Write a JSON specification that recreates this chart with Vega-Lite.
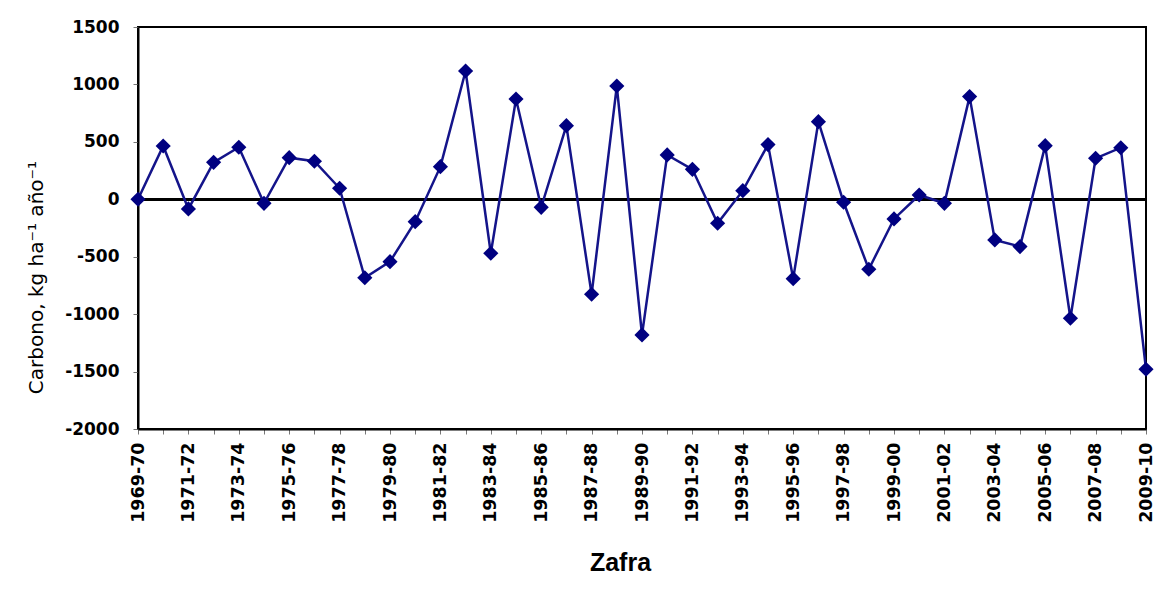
{
  "$schema": "https://vega.github.io/schema/vega-lite/v6.json",
  "width": 1008,
  "height": 402,
  "autosize": {"type": "none"},
  "padding": {"left": 138, "top": 27, "right": 20, "bottom": 162},
  "background": "white",
  "config": {
    "view": {"stroke": "black", "strokeWidth": 2},
    "axis": {"grid": false}
  },
  "data": {
    "values": [
      {"zafra": "1969-70", "carbono": 0},
      {"zafra": "1970-71", "carbono": 464},
      {"zafra": "1971-72", "carbono": -84},
      {"zafra": "1972-73", "carbono": 322},
      {"zafra": "1973-74", "carbono": 453},
      {"zafra": "1974-75", "carbono": -35},
      {"zafra": "1975-76", "carbono": 362},
      {"zafra": "1976-77", "carbono": 331},
      {"zafra": "1977-78", "carbono": 96},
      {"zafra": "1978-79", "carbono": -683},
      {"zafra": "1979-80", "carbono": -543},
      {"zafra": "1980-81", "carbono": -195},
      {"zafra": "1981-82", "carbono": 284},
      {"zafra": "1982-83", "carbono": 1117},
      {"zafra": "1983-84", "carbono": -470},
      {"zafra": "1984-85", "carbono": 873},
      {"zafra": "1985-86", "carbono": -70},
      {"zafra": "1986-87", "carbono": 641},
      {"zafra": "1987-88", "carbono": -827},
      {"zafra": "1988-89", "carbono": 986},
      {"zafra": "1989-90", "carbono": -1181},
      {"zafra": "1990-91", "carbono": 386},
      {"zafra": "1991-92", "carbono": 261},
      {"zafra": "1992-93", "carbono": -209},
      {"zafra": "1993-94", "carbono": 75},
      {"zafra": "1994-95", "carbono": 476},
      {"zafra": "1995-96", "carbono": -691},
      {"zafra": "1996-97", "carbono": 676},
      {"zafra": "1997-98", "carbono": -26},
      {"zafra": "1998-99", "carbono": -609},
      {"zafra": "1999-00", "carbono": -171},
      {"zafra": "2000-01", "carbono": 37},
      {"zafra": "2001-02", "carbono": -35},
      {"zafra": "2002-03", "carbono": 894},
      {"zafra": "2003-04", "carbono": -354},
      {"zafra": "2004-05", "carbono": -412},
      {"zafra": "2005-06", "carbono": 467},
      {"zafra": "2006-07", "carbono": -1036},
      {"zafra": "2007-08", "carbono": 357},
      {"zafra": "2008-09", "carbono": 449},
      {"zafra": "2009-10", "carbono": -1480}
    ]
  },
  "encoding": {
    "x": {
      "field": "zafra",
      "type": "ordinal",
      "sort": null,
      "scale": {"type": "point", "padding": 0},
      "axis": {
        "title": "Zafra",
        "titleFont": "Liberation Sans",
        "titleFontWeight": "bold",
        "titleFontSize": 25,
        "titleColor": "black",
        "titleX": 482,
        "titleY": 133,
        "titleBaseline": "middle",
        "titleAlign": "center",
        "labelAngle": 270,
        "labelFont": "DejaVu Sans",
        "labelFontWeight": "bold",
        "labelFontSize": 17.5,
        "labelColor": "black",
        "labelPadding": 8,
        "labelExpr": "toNumber(substring(datum.value, 0, 4)) % 2 == 1 ? datum.value : ''",
        "labelOverlap": false,
        "domainColor": "black",
        "domainWidth": 2,
        "tickColor": "#777777",
        "tickSize": 5
      }
    },
    "y": {
      "field": "carbono",
      "type": "quantitative",
      "scale": {"domain": [-2000, 1500], "nice": false},
      "axis": {
        "title": "Carbono, kg ha⁻¹ año⁻¹",
        "titleFont": "DejaVu Sans",
        "titleFontWeight": "normal",
        "titleFontSize": 20,
        "titleColor": "black",
        "titleX": -102,
        "titleY": 250,
        "titleBaseline": "middle",
        "titleAlign": "center",
        "values": [-2000, -1500, -1000, -500, 0, 500, 1000, 1500],
        "labelExpr": "datum.value + ''",
        "labelFont": "DejaVu Sans",
        "labelFontWeight": "bold",
        "labelFontSize": 17,
        "labelColor": "black",
        "labelPadding": 14,
        "domainColor": "black",
        "domainWidth": 2,
        "tickColor": "#777777",
        "tickSize": 5
      }
    }
  },
  "layer": [
    {
      "mark": {"type": "rule", "color": "black", "strokeWidth": 2},
      "encoding": {"y": {"datum": 0}, "x": null}
    },
    {
      "mark": {"type": "line", "color": "#14148a", "strokeWidth": 2.5}
    },
    {
      "mark": {"type": "point", "shape": "diamond", "filled": true, "size": 230, "color": "#000080", "opacity": 1}
    }
  ]
}
